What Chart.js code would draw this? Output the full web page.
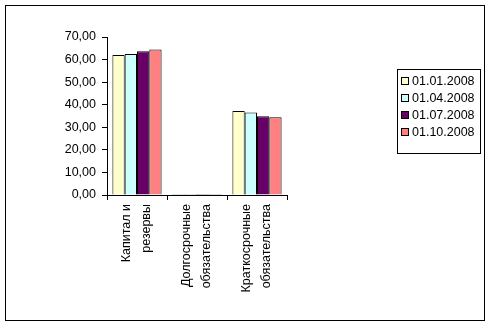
<!DOCTYPE html>
<html><head><meta charset="utf-8">
<script src="https://cdn.jsdelivr.net/npm/chart.js@4"></script>
<style>html,body{margin:0;padding:0;background:#fff}</style>
</head><body>
<canvas id="c" width="491" height="326"></canvas>
<script>
const categories = [["Капитал и","резервы"],["Долгосрочные","обязательства"],["Краткосрочные","обязательства"]];
const seriesNames = ["01.01.2008","01.04.2008","01.07.2008","01.10.2008"];
const s0101 = [62.0, 0.4, 37.2];
const s0104 = [62.5, 0.4, 36.6];
const s0107 = [63.7, 0.4, 34.9];
const s0110 = [64.5, 0.4, 34.4];
const yTicks = [0,10,20,30,40,50,60,70];
const colors = ["#FFFFCC","#CCFFFF","#660066","#FF8080"];
const FONT = "'Liberation Sans', Arial, sans-serif";

const decor = {
  id:'decor',
  beforeDraw(chart){
    const ctx=chart.ctx; ctx.save();
    ctx.fillStyle='#fff'; ctx.fillRect(0,0,chart.width,chart.height);
    ctx.restore();
  },
  afterDraw(chart){
    const ctx=chart.ctx; ctx.save();
    ctx.strokeStyle='#000'; ctx.lineWidth=1;
    ctx.strokeRect(5.5,5.5,479,315);
    // legend
    const lx=397.5, ly=69.5, lw=83, lh=84;
    ctx.strokeRect(lx,ly,lw,lh);
    ctx.font='12.5px '+FONT; ctx.textBaseline='middle'; ctx.fillStyle='#000';
    chart.data.datasets.forEach((ds,i)=>{
      const cy=81+i*17;
      ctx.fillStyle=ds.backgroundColor;
      ctx.fillRect(401.5,cy-3.5,7,7);
      ctx.strokeRect(401.5,cy-3.5,7,7);
      ctx.fillStyle='#000';
      ctx.fillText(ds.label,412,cy+0.5);
    });
    ctx.restore();
  }
};

new Chart(document.getElementById('c'),{
  type:'bar',
  data:{
    labels:categories,
    datasets:[s0101,s0104,s0107,s0110].map((d,i)=>({
      label:seriesNames[i], data:d, backgroundColor:colors[i],
      borderColor:'#000', borderWidth:1,
      categoryPercentage:0.82, barPercentage:1
    }))
  },
  options:{
    responsive:false, animation:false,
    layout:{padding:{left:0,top:37,right:204,bottom:0}},
    plugins:{legend:{display:false},tooltip:{enabled:false}},
    scales:{
      x:{
        afterFit(s){s.height=131;},
        grid:{display:true,drawOnChartArea:false,tickLength:5,color:'#000',offset:true},
        border:{color:'#000',width:1},
        ticks:{color:'#000',font:{family:FONT,size:12.5,lineHeight:1.6},minRotation:90,maxRotation:90,autoSkip:false,padding:4,labelOffset:-10}
      },
      y:{
        min:0,max:70,
        afterFit(s){s.width=107;},
        afterBuildTicks(s){s.ticks=yTicks.map(v=>({value:v}));},
        grid:{display:true,drawOnChartArea:false,tickLength:5,color:'#000'},
        border:{color:'#000',width:1},
        ticks:{color:'#000',font:{family:FONT,size:12.5},padding:6,
          callback:v=>v.toFixed(2).replace('.',',')}
      }
    }
  },
  plugins:[decor]
});
</script>
</body></html>
